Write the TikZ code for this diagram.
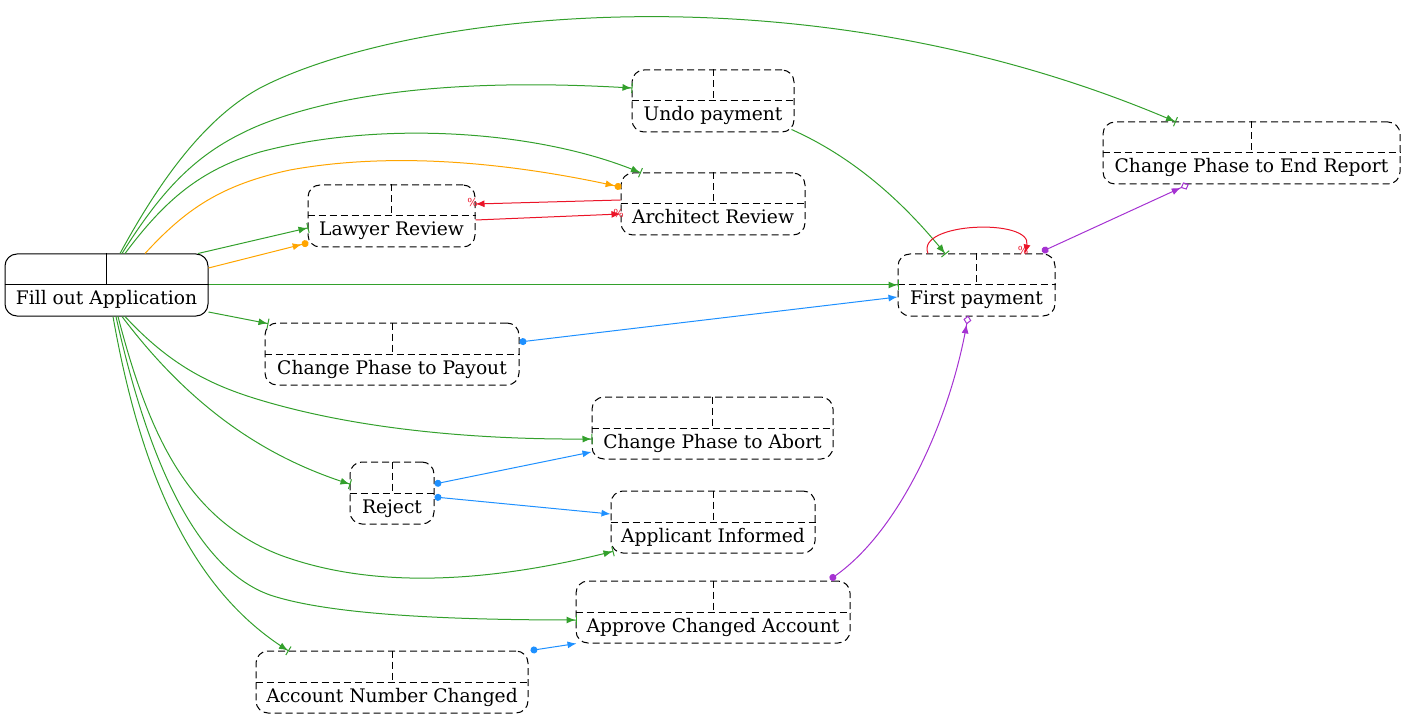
\documentclass[tikz,border=0pt]{standalone}
\usepackage{fontspec}
\setmainfont{DejaVu Serif}
\usetikzlibrary{arrows.meta}
\definecolor{incgreen}{RGB}{51,160,44}
\definecolor{condorange}{RGB}{255,165,0}
\definecolor{exclred}{RGB}{235,20,40}
\definecolor{respblue}{RGB}{30,144,255}
\definecolor{milepurple}{RGB}{165,50,210}
\begin{document}
\begin{tikzpicture}[x=1pt, y=-1pt, line width=1pt,
  event/.style={draw, rounded corners=12pt, inner xsep=0pt, inner ysep=0pt,
    text height=51pt, text depth=11pt, font=\fontsize{18.67}{22}\selectfont},
  pend/.style={event, dash pattern=on 7pt off 4pt},
  incl/.style={draw=incgreen, -{Latex[length=9pt,width=7pt]Bar[width=10pt,sep=-1pt]}},
  cond/.style={draw=condorange, -{Latex[length=9pt,width=7pt]Circle[length=7pt,sep=-1pt]}},
  excl/.style={draw=exclred, -{Latex[length=9pt,width=7pt]}},
  resp/.style={draw=respblue, {Circle[length=7pt]}-{Latex[length=9pt,width=7pt]}},
  mile/.style={draw=milepurple, {Circle[length=7pt]}-{Latex[length=9pt,width=7pt]Diamond[open,length=9pt,width=8pt,sep=-1pt]}},
  pct/.style={text=exclred, font=\fontsize{11}{11}\selectfont, inner sep=0pt}]
\useasboundingbox (0,0) rectangle (1405,719);
% events
\node[event, minimum width=203pt] (fill) at (106.5,285) {Fill out Application};
\node[pend, minimum width=167pt] (lawyer) at (391.5,216) {Lawyer Review};
\node[pend, minimum width=184pt] (arch) at (713,204) {Architect Review};
\node[pend, minimum width=162pt] (undo) at (713,101) {Undo payment};
\node[pend, minimum width=297pt] (endrep) at (1251.5,153) {Change Phase to End Report};
\node[pend, minimum width=157pt] (first) at (976.5,285) {First payment};
\node[pend, minimum width=254pt] (payout) at (392,354) {Change Phase to Payout};
\node[pend, minimum width=241pt] (abort) at (712.5,428) {Change Phase to Abort};
\node[pend, minimum width=84pt] (reject) at (392,493) {Reject};
\node[pend, minimum width=204pt] (informed) at (713,522) {Applicant Informed};
\node[pend, minimum width=274pt] (approve) at (713,612) {Approve Changed Account};
\node[pend, minimum width=272pt] (acct) at (392,682) {Account Number Changed};
% cells
\draw (fill.west) -- (fill.east) (fill.north) -- (fill.center);
\foreach \ev in {lawyer,arch,undo,endrep,first,payout,abort,reject,informed,approve,acct}
  \draw[dash pattern=on 7pt off 4pt] (\ev.west) -- (\ev.east) (\ev.north) -- (\ev.center);
% includes
\draw[incl] ([xshift=13.5pt]fill.north) .. controls (160,180) and (205,118) .. (260,88)
  .. controls (400,15) and (800,-40) .. ([xshift=-76.5pt]endrep.north);
\draw[incl] ([xshift=15.5pt]fill.north) .. controls (165,185) and (200,150) .. (260,125)
  .. controls (360,85) and (500,80) .. ([yshift=13pt]undo.west);
\draw[incl] ([xshift=18.5pt]fill.north) .. controls (165,200) and (200,170) .. (260,152)
  .. controls (380,120) and (540,130) .. ([xshift=-73pt]arch.north);
\draw[incl] ([xshift=91.5pt]fill.north) -- ([yshift=-12pt]lawyer.west);
\draw[incl] (fill.east) -- (first.west);
\draw[incl] ([yshift=-27pt]fill.east) -- ([xshift=3pt,yshift=-1pt]payout.north west);
\draw[incl] ([xshift=18.5pt]fill.south) .. controls (170,365) and (210,385) .. (260,400)
  .. controls (360,430) and (480,440) .. ([yshift=-11pt]abort.west);
\draw[incl] ([xshift=15.5pt]fill.south) .. controls (200,420) and (280,462) .. ([yshift=9pt]reject.west);
\draw[incl] ([xshift=11.5pt]fill.south) .. controls (150,440) and (190,520) .. (280,555)
  .. controls (380,592) and (500,580) .. ([xshift=2pt,yshift=2pt]informed.south west);
\draw[incl] ([xshift=9.5pt]fill.south) .. controls (150,470) and (200,570) .. (270,595)
  .. controls (330,615) and (450,620) .. ([yshift=-8pt]approve.west);
\draw[incl] ([xshift=6.5pt]fill.south) .. controls (140,470) and (190,590) .. ([xshift=-104pt]acct.north);
\draw[incl] ([xshift=-3pt,yshift=3pt]undo.south east) .. controls (860,160) and (910,210) .. ([xshift=-31.5pt]first.north);
% conditions
\draw[cond] ([xshift=38.5pt]fill.north) .. controls (185,210) and (220,185) .. (290,170)
  .. controls (400,150) and (520,165) .. ([yshift=17pt]arch.west);
\draw[cond] ([yshift=17pt]fill.east) -- ([yshift=-27pt]lawyer.west);
% excludes
\draw[excl] ([yshift=4pt]arch.west) -- ([yshift=12pt]lawyer.east)
  node[pct, pos=1, xshift=-3pt, yshift=2pt] (pa) {\%};
\draw[excl] ([yshift=-4pt]lawyer.east) -- ([yshift=-10pt]arch.west)
  node[pct, pos=1, xshift=-2pt, yshift=1pt] (pb) {\%};
\draw[excl] ([xshift=-48.5pt]first.north) .. controls (915,222) and (1033,218) .. ([xshift=48.5pt]first.north)
  node[pct, pos=1, xshift=-2pt, yshift=3pt] (pc) {\%};
% responses
\draw[resp] ([yshift=12pt]payout.east) -- ([yshift=-12pt]first.west);
\draw[resp] ([yshift=9pt]reject.east) -- ([yshift=-24pt]abort.west);
\draw[resp] ([yshift=-4pt]reject.east) -- ([yshift=8pt]informed.west);
\draw[resp] ([xshift=2pt]acct.north east) -- ([xshift=1pt]approve.south west);
% milestones
\draw[mile] ([xshift=65.5pt,yshift=2pt]first.north) -- ([xshift=-63.5pt]endrep.south);
\draw[mile] ([xshift=117pt,yshift=1pt]approve.north) .. controls (900,530) and (950,420) .. ([xshift=-8.5pt]first.south);
\end{tikzpicture}
\end{document}
